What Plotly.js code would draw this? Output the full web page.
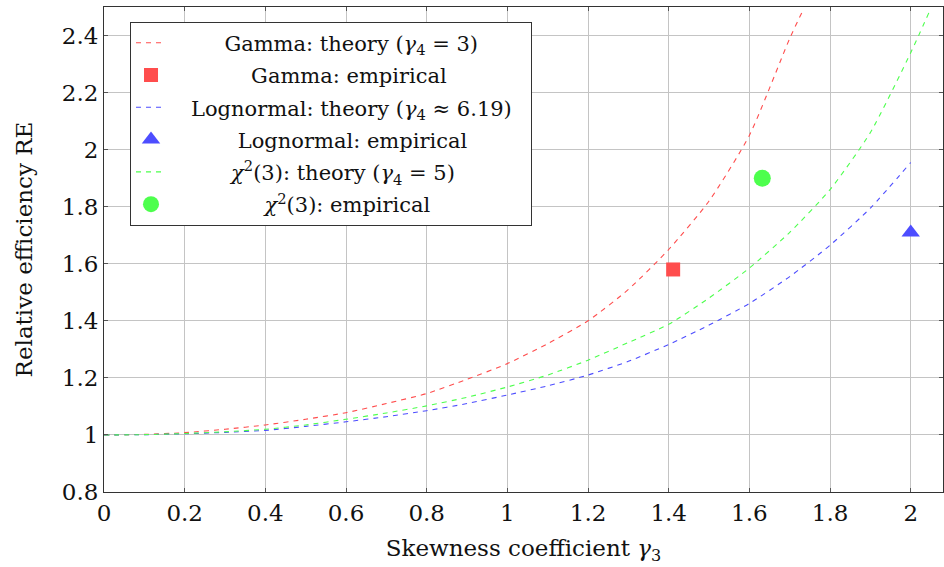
<!DOCTYPE html>
<html>
<head>
<meta charset="utf-8">
<script src="https://cdn.plot.ly/plotly-3.0.1.min.js"></script>
<style>html,body{margin:0;padding:0;background:#fff;}#chart{width:944px;height:567px;}</style>
</head>
<body>
<div id="chart"></div>
<script>
// Theory curves
const gammaX = [0, 0.1, 0.2, 0.3, 0.4, 0.5, 0.6, 0.7, 0.8, 0.9, 1.0, 1.1, 1.2, 1.3, 1.4, 1.5, 1.6, 1.7, 1.73];
const gammaRE = [1, 1.002, 1.008, 1.02, 1.035, 1.055, 1.078, 1.11, 1.145, 1.195, 1.25, 1.32, 1.40, 1.51, 1.65, 1.82, 2.05, 2.39, 2.48];

const lognormX = [0, 0.1, 0.2, 0.3, 0.4, 0.5, 0.6, 0.7, 0.8, 0.9, 1.0, 1.1, 1.2, 1.3, 1.4, 1.5, 1.6, 1.7, 1.8, 1.9, 2.0];
const lognormRE = [1, 1.001, 1.004, 1.009, 1.016, 1.03, 1.046, 1.064, 1.085, 1.11, 1.14, 1.172, 1.21, 1.258, 1.317, 1.385, 1.461, 1.555, 1.665, 1.795, 1.955];

const chi2X = [0, 0.1, 0.2, 0.3, 0.4, 0.5, 0.6, 0.7, 0.8, 0.9, 1.0, 1.1, 1.2, 1.3, 1.4, 1.5, 1.6, 1.7, 1.8, 1.9, 2.0, 2.045];
const chi2RE = [1, 1.001, 1.005, 1.011, 1.02, 1.035, 1.055, 1.077, 1.102, 1.132, 1.168, 1.21, 1.262, 1.324, 1.388, 1.48, 1.585, 1.71, 1.86, 2.06, 2.34, 2.48];

// Empirical points
const gammaEmpX = [1.411];
const gammaEmpRE = [1.58];
const lognormEmpX = [2.0];
const lognormEmpRE = [1.71];
const chi2EmpX = [1.632];
const chi2EmpRE = [1.90];

// Tick labels
const xTickVals = [0, 0.2, 0.4, 0.6, 0.8, 1, 1.2, 1.4, 1.6, 1.8, 2];
const xTickText = ["0", "0.2", "0.4", "0.6", "0.8", "1", "1.2", "1.4", "1.6", "1.8", "2"];
const yTickVals = [0.8, 1, 1.2, 1.4, 1.6, 1.8, 2, 2.2, 2.4];
const yTickText = ["0.8", "1", "1.2", "1.4", "1.6", "1.8", "2", "2.2", "2.4"];

const names = [
  "Gamma: theory (<i>γ</i><sub>4</sub> = 3)",
  "Gamma: empirical",
  "Lognormal: theory (<i>γ</i><sub>4</sub> ≈ 6.19)",
  "Lognormal: empirical",
  "<i>χ</i><sup>2</sup>(3): theory (<i>γ</i><sub>4</sub> = 5)",
  "<i>χ</i><sup>2</sup>(3): empirical"
];
// non-breaking-space padding to imitate centred legend text
const padL = [8, 12, 3, 10, 9, 14];
const padR = [0, 0, 2, 0, 0, 0];
const padded = names.map((n, i) => "\u00A0".repeat(padL[i]) + n + "\u00A0".repeat(padR[i]));

const RED = "rgb(255,77,77)", BLUE = "rgb(77,77,255)", GREEN = "rgb(77,255,77)";
const FONT = "DejaVu Serif";

const dashLine = c => ({color: c, width: 1.1, dash: "5px,5px", shape: "spline", smoothing: 0.6});

const traces = [
  {x: gammaX, y: gammaRE, mode: "lines", name: padded[0], legendgroup: "a", line: dashLine(RED)},
  {x: gammaEmpX, y: gammaEmpRE, mode: "markers", name: padded[1], legendgroup: "b", marker: {color: RED, symbol: "square", size: 14}},
  {x: lognormX, y: lognormRE, mode: "lines", name: padded[2], legendgroup: "c", line: dashLine(BLUE)},
  {x: lognormEmpX, y: lognormEmpRE, mode: "markers", name: padded[3], legendgroup: "d", marker: {color: BLUE, symbol: "triangle-up", size: 16}},
  {x: chi2X, y: chi2RE, mode: "lines", name: padded[4], legendgroup: "e", line: dashLine(GREEN)},
  {x: chi2EmpX, y: chi2EmpRE, mode: "markers", name: padded[5], legendgroup: "f", marker: {color: GREEN, symbol: "circle", size: 17}}
];

const axisCommon = {
  showgrid: true, gridcolor: "#c4c4c4", gridwidth: 1,
  zeroline: false, showline: true, linecolor: "#333", linewidth: 1,
  mirror: "ticks", ticks: "inside", ticklen: 4, tickcolor: "#555", tickwidth: 1,
  tickfont: {family: FONT, size: 23, color: "#111"}
};

const layout = {
  width: 944, height: 567,
  margin: {l: 104, r: 1, t: 7, b: 75},
  paper_bgcolor: "#fff", plot_bgcolor: "#fff",
  font: {family: FONT, color: "#111"},
  xaxis: Object.assign({}, axisCommon, {
    range: [0, 2.08], tickmode: "array", tickvals: xTickVals, ticktext: xTickText,
    title: {text: "Skewness coefficient <i>γ</i><sub>3</sub>", font: {family: FONT, size: 23, color: "#111"}, standoff: 15}
  }),
  yaxis: Object.assign({}, axisCommon, {
    range: [0.8, 2.5], tickmode: "array", tickvals: yTickVals, ticktext: yTickText,
    title: {text: "Relative efficiency RE", font: {family: FONT, size: 23, color: "#111"}, standoff: 22}
  }),
  showlegend: true,
  legend: {
    x: 0.031, y: 0.97, xanchor: "left", yanchor: "top",
    bgcolor: "#fff", bordercolor: "#333", borderwidth: 1,
    font: {family: FONT, size: 21, color: "#111"},
    traceorder: "grouped", tracegroupgap: 2
  }
};

Plotly.newPlot("chart", traces, layout, {displayModeBar: false, staticPlot: true});
</script>
</body>
</html>
